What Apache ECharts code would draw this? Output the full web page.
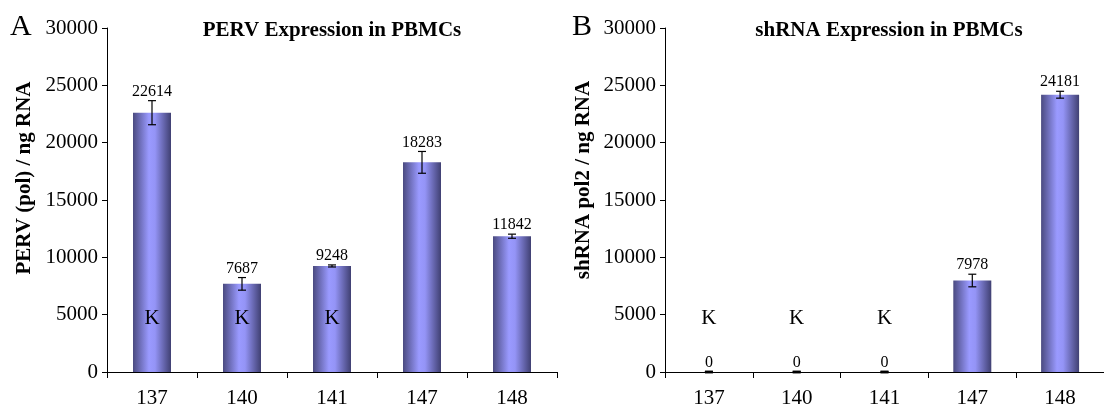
<!DOCTYPE html>
<html><head><meta charset="utf-8">
<script src="https://cdn.jsdelivr.net/npm/echarts@6/dist/echarts.min.js"></script>
<style>html,body{margin:0;padding:0;background:#fff}#c{width:1104px;height:409px}</style>
</head><body><div id="c"></div>
<script>
const categories = ['137', '140', '141', '147', '148'];
const pervValues = [22614, 7687, 9248, 18283, 11842];
const pervErrors = [1050, 550, 90, 950, 180];
const shrnaValues = [0, 0, 0, 7978, 24181];
const shrnaErrors = [0, 0, 0, 550, 300];
const pervMarks = ['K', 'K', 'K', '', ''];
const shrnaMarks = ['K', 'K', 'K', '', ''];
const markLevel = 4700;
const yMax = 30000;
const yStep = 5000;

const SERIF = '"Liberation Serif", "Times New Roman", serif';
const barColor = new echarts.graphic.LinearGradient(0, 0, 1, 0, [
  {offset: 0, color: '#4a4a80'},
  {offset: 0.42, color: '#9a9aff'},
  {offset: 0.58, color: '#9494f6'},
  {offset: 1, color: '#404072'}
]);

function errRender(params, api) {
  const i = api.value(0), v = api.value(1), e = api.value(2);
  const c = api.coord([i, v]);
  const hi = api.coord([i, v + e]);
  const lo = api.coord([i, Math.max(0, v - e)]);
  const hw = 4;
  const st = {stroke: '#000', lineWidth: e === 0 ? 2.5 : 1.2};
  return {type: 'group', children: [
    {type: 'line', shape: {x1: c[0], y1: hi[1], x2: c[0], y2: lo[1]}, style: st},
    {type: 'line', shape: {x1: c[0] - hw, y1: hi[1], x2: c[0] + hw, y2: hi[1]}, style: st},
    {type: 'line', shape: {x1: c[0] - hw, y1: lo[1], x2: c[0] + hw, y2: lo[1]}, style: st},
    {type: 'text', x: c[0], y: hi[1] - 1, style: {text: String(v), align: 'center', verticalAlign: 'bottom', font: '16px ' + SERIF, fill: '#000'}}
  ]};
}
function markRender(params, api) {
  const c = api.coord([api.value(0), api.value(1)]);
  return {type: 'text', x: c[0], y: c[1], style: {text: api.value(2) ? 'K' : '', align: 'center', verticalAlign: 'middle', font: '21px ' + SERIF, fill: '#000'}};
}

function yAxis(idx) {
  return {
    type: 'value', gridIndex: idx, min: 0, max: yMax, interval: yStep,
    axisLine: {show: true, lineStyle: {color: '#000', width: 1}},
    axisTick: {show: true, length: 5, lineStyle: {color: '#000'}},
    splitLine: {show: false},
    axisLabel: {color: '#000', fontSize: 21, fontFamily: SERIF, margin: 9, formatter: v => String(v)}
  };
}
function xAxis(idx) {
  return {
    type: 'category', gridIndex: idx, data: categories,
    axisLine: {lineStyle: {color: '#000', width: 1}},
    axisTick: {show: true, length: 6, alignWithLabel: false, lineStyle: {color: '#000'}},
    axisLabel: {color: '#000', fontSize: 21, fontFamily: SERIF, margin: 16}
  };
}

const chart = echarts.init(document.getElementById('c'), null, {renderer: 'canvas'});
chart.setOption({
  animation: false,
  backgroundColor: '#fff',
  grid: [
    {left: 107, top: 28, width: 450, height: 344},
    {left: 665, top: 28, width: 450, height: 344}
  ],
  xAxis: [xAxis(0), xAxis(1)],
  yAxis: [yAxis(0), yAxis(1)],
  graphic: [
    {type: 'text', x: 10, y: 27, style: {text: 'A', align: 'left', verticalAlign: 'middle', font: '30px ' + SERIF, fill: '#000'}},
    {type: 'text', x: 572, y: 27, style: {text: 'B', align: 'left', verticalAlign: 'middle', font: '30px ' + SERIF, fill: '#000'}},
    {type: 'text', x: 332, y: 31, style: {text: 'PERV Expression in PBMCs', align: 'center', verticalAlign: 'middle', font: 'bold 21px ' + SERIF, fill: '#000'}},
    {type: 'text', x: 889, y: 31, style: {text: 'shRNA Expression in PBMCs', align: 'center', verticalAlign: 'middle', font: 'bold 21px ' + SERIF, fill: '#000'}},
    {type: 'text', x: 25, y: 178, rotation: Math.PI / 2, style: {text: 'PERV (pol) / ng RNA', align: 'center', verticalAlign: 'middle', font: 'bold 21px ' + SERIF, fill: '#000'}},
    {type: 'text', x: 584, y: 180, rotation: Math.PI / 2, style: {text: 'shRNA pol2 / ng RNA', align: 'center', verticalAlign: 'middle', font: 'bold 21px ' + SERIF, fill: '#000'}}
  ],
  series: [
    {type: 'bar', xAxisIndex: 0, yAxisIndex: 0, data: pervValues, barWidth: 38, itemStyle: {color: barColor}},
    {type: 'bar', xAxisIndex: 1, yAxisIndex: 1, data: shrnaValues, barWidth: 38, itemStyle: {color: barColor}},
    {type: 'custom', xAxisIndex: 0, yAxisIndex: 0, renderItem: errRender, z: 5,
      data: pervValues.map((v, i) => [i, v, pervErrors[i]])},
    {type: 'custom', xAxisIndex: 1, yAxisIndex: 1, renderItem: errRender, z: 5,
      data: shrnaValues.map((v, i) => [i, v, shrnaErrors[i]])},
    {type: 'custom', xAxisIndex: 0, yAxisIndex: 0, renderItem: markRender, z: 6,
      data: pervMarks.map((m, i) => [i, markLevel, m ? 1 : 0])},
    {type: 'custom', xAxisIndex: 1, yAxisIndex: 1, renderItem: markRender, z: 6,
      data: shrnaMarks.map((m, i) => [i, markLevel, m ? 1 : 0])}
  ]
});
</script>
</body></html>
